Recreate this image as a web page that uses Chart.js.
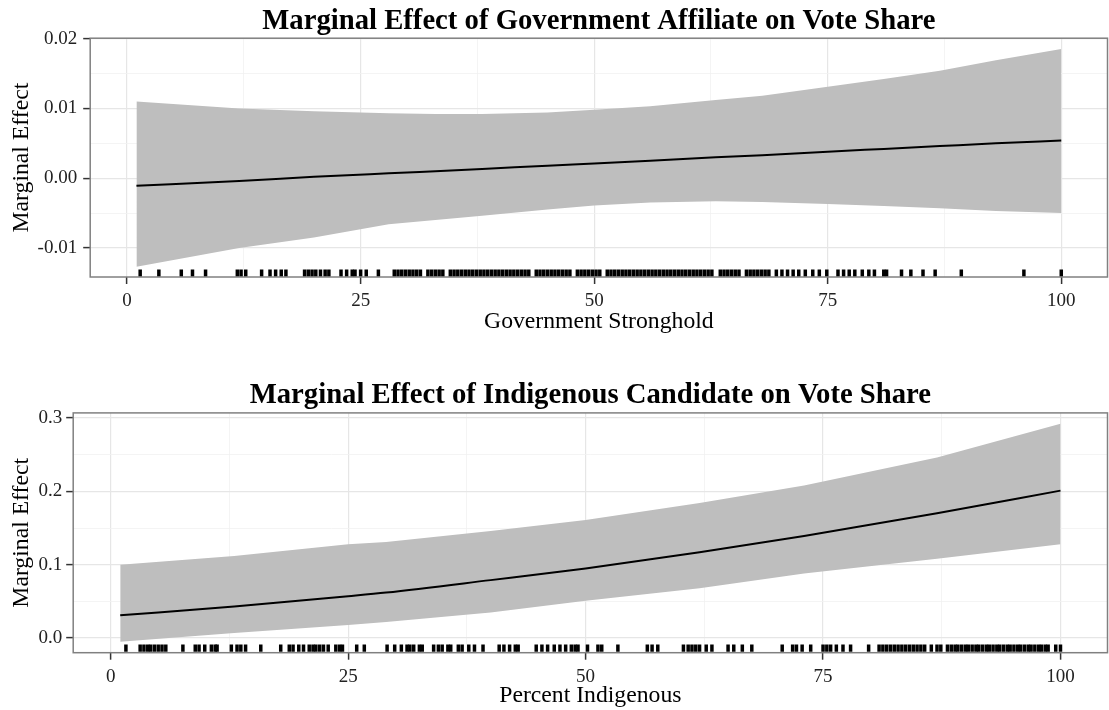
<!DOCTYPE html>
<html>
<head>
<meta charset="utf-8">
<script src="https://cdn.jsdelivr.net/npm/chart.js@4.4.1/dist/chart.umd.min.js"></script>
<style>
body { margin: 0; background: #fff; overflow: hidden; width: 1109px; height: 710px; position: relative; }
canvas { position: absolute; left: 0; }
#govChart { top: 0; }
#indChart { top: 375px; }
</style>
</head>
<body>
<canvas id="govChart" width="1115" height="350"></canvas>
<canvas id="indChart" width="1115" height="335"></canvas>
<script>
// painel 1: government affiliate
const govX = [1, 12, 20, 28, 33, 38, 45, 50, 56, 63, 68, 75, 81, 87, 93, 100];
const govEffect = [-0.0011, -0.0004, 0.0002, 0.0007, 0.0010, 0.0013, 0.0018, 0.0021, 0.0025, 0.0030, 0.0033, 0.0038, 0.0042, 0.0046, 0.0050, 0.0054];
const govUpper = [0.0110, 0.0100, 0.0096, 0.0093, 0.0092, 0.0092, 0.0094, 0.0098, 0.0103, 0.0112, 0.0118, 0.0131, 0.0142, 0.0154, 0.0169, 0.0185];
const govLower = [-0.0127, -0.0100, -0.0085, -0.0066, -0.0060, -0.0054, -0.0045, -0.0039, -0.0035, -0.0033, -0.0034, -0.0037, -0.0040, -0.0043, -0.0047, -0.0050];
const govRug = [1.4, 3.4, 5.8, 7.0, 8.4, 11.8, 12.2, 12.7, 14.4, 15.3, 15.9, 16.5, 17.0,
  19.0, 19.4, 19.8, 20.2, 20.7, 21.2, 21.6, 22.9, 23.5, 24.1, 24.4, 25.0, 25.6, 26.9,
  28.6, 29.0, 29.4, 29.8, 30.2, 30.6, 31.0, 31.4, 32.2, 32.6, 33.0, 33.4, 33.8, 34.6, 35.0, 35.4,
  35.8, 36.2, 36.6, 37.0, 37.4, 37.8, 38.2, 38.6, 39.0, 39.4, 39.8, 40.2, 40.6, 41.0, 41.4, 41.8,
  42.2, 42.6, 43.0, 43.8, 44.2, 44.6, 45.0, 45.4, 45.8, 46.2, 46.6, 47.0, 47.4, 48.2, 48.6, 49.0,
  49.4, 49.8, 50.2, 50.6, 51.4, 51.8, 52.2, 52.6, 53.0, 53.4, 53.8, 54.2, 54.6, 55.0, 55.4, 55.8,
  56.2, 56.6, 57.0, 57.4, 57.8, 58.2, 58.6, 59.0, 59.4, 59.8, 60.2, 60.6, 61.0, 61.4, 61.8, 62.2, 62.6,
  63.5, 63.9, 64.3, 64.7, 65.1, 65.5, 66.3, 66.7, 67.1, 67.5, 67.9, 68.3, 68.7, 69.5, 70.1, 70.7,
  71.3, 71.9, 72.6, 73.4, 74.1, 74.9, 76.1, 76.7, 77.3, 77.9, 78.7, 79.4, 80.0, 81.0, 81.3,
  82.9, 83.9, 85.2, 86.5, 89.3, 96.0, 100];
const govRugY = -0.0136;
const govYMajor = [-0.01, 0, 0.01, 0.02];
const govYMinor = [-0.005, 0.005, 0.015];

// painel 2: indigenous candidate
const indX = [1, 13, 25, 29, 40, 50, 62, 73, 87, 100];
const indEffect = [0.031, 0.043, 0.057, 0.062, 0.079, 0.095, 0.117, 0.139, 0.170, 0.201];
const indUpper = [0.100, 0.112, 0.128, 0.131, 0.146, 0.161, 0.184, 0.208, 0.246, 0.292];
const indLower = [-0.005, 0.007, 0.018, 0.022, 0.035, 0.051, 0.068, 0.088, 0.108, 0.128];
const indRug = [1.6, 3.1, 3.5, 3.9, 4.2, 4.6, 5.0, 5.4, 5.8, 7.6, 8.9, 9.3, 9.9, 10.6, 11.0, 11.2,
  12.7, 13.3, 13.7, 14.2, 15.8, 17.9, 18.8, 19.2, 19.8, 20.3, 20.9, 21.3, 21.6, 22.0, 22.4,
  22.9, 23.7, 24.1, 24.4, 25.9, 26.7, 29.1, 29.9, 30.6, 31.2, 31.5, 31.9, 32.5, 32.8,
  34.0, 34.5, 34.9, 35.5, 35.8, 36.6, 37.0, 37.7, 38.3, 39.2, 40.9, 41.4, 42.0, 42.6, 42.9,
  44.8, 45.4, 46.0, 46.7, 47.3, 47.9, 48.5, 48.9, 49.2, 50.2, 51.3, 51.7, 53.4, 56.5, 57.0, 57.6,
  60.3, 60.8, 61.2, 61.6, 62.0, 62.7, 63.3, 65.0, 65.6, 66.5, 67.5, 70.7,
  71.8, 72.2, 72.8, 73.7, 75.0, 75.4, 75.8, 76.4, 77.1, 77.9, 79.8,
  80.9, 81.3, 81.7, 82.1, 82.5, 82.9, 83.3, 83.7, 84.1, 84.5, 84.9, 85.3, 85.7, 86.4, 87.0, 87.4,
  88.1, 88.5, 88.9, 89.2, 89.6, 90.0, 90.3, 90.7, 91.1, 91.4, 91.8, 92.2, 92.5, 92.9, 93.3, 93.6,
  94.0, 94.4, 94.7, 95.1, 95.5, 95.8, 96.2, 96.6, 96.9, 97.3, 97.7, 98.0, 98.4, 98.7, 99.5, 100];
const indRugY = -0.0138;
const indYMajor = [0, 0.1, 0.2, 0.3];
const indYMinor = [0.05, 0.15, 0.25];

const xMajor = [0, 25, 50, 75, 100];
const xMinor = [12.5, 37.5, 62.5, 87.5];

const serif = "'Liberation Serif', 'Times New Roman', Times, serif";

function toPoints(xs, ys) {
    return xs.map((x, i) => ({ x: x, y: ys[i] }));
}

function isMajor(list, v) {
    return list.some(t => Math.abs(t - v) < 1e-9);
}

// borda cinza em volta da area do grafico
const panelBorder = {
    id: 'panelBorder',
    afterDatasetsDraw(chart) {
        const a = chart.chartArea;
        const ctx = chart.ctx;
        ctx.save();
        ctx.strokeStyle = '#808080';
        ctx.lineWidth = 1.5;
        ctx.strokeRect(a.left, a.top, a.right - a.left, a.bottom - a.top);
        ctx.restore();
    }
};

function eixo(major, minor, opts) {
    return {
        type: 'linear',
        min: opts.min,
        max: opts.max,
        afterBuildTicks: scale => {
            scale.ticks = major.concat(minor).sort((a, b) => a - b).map(v => ({ value: v }));
        },
        afterFit: opts.afterFit,
        border: { display: false },
        grid: {
            color: c => isMajor(major, c.tick.value) ? '#e6e6e6' : '#f1f1f1',
            lineWidth: c => isMajor(major, c.tick.value) ? 1.2 : 0.8,
            tickColor: c => isMajor(major, c.tick.value) ? '#333333' : 'rgba(0,0,0,0)',
            tickLength: 7,
            tickWidth: 1.5
        },
        ticks: {
            autoSkip: false,
            maxRotation: 0,
            padding: opts.padding,
            color: '#222222',
            font: { family: serif, size: 19 },
            callback: v => isMajor(major, v) ? opts.format(v) : ''
        },
        title: {
            display: true,
            text: opts.title,
            color: '#000',
            padding: opts.titlePadding,
            font: { family: serif, size: 23.7 }
        }
    };
}

function criarPainel(id, p) {
    const ctx = document.getElementById(id).getContext('2d');
    return new Chart(ctx, {
        type: 'line',
        data: {
            datasets: [
                {
                    data: p.rug.map(x => ({ x: x, y: p.rugY })),
                    showLine: false,
                    pointStyle: 'line',
                    pointRotation: 90,
                    pointRadius: 3.6,
                    pointBorderWidth: 3.5,
                    pointBorderColor: '#000'
                },
                {
                    data: toPoints(p.x, p.effect),
                    borderColor: '#000',
                    borderWidth: 2,
                    pointRadius: 0,
                    cubicInterpolationMode: 'monotone'
                },
                {
                    data: toPoints(p.x, p.upper),
                    borderWidth: 0,
                    pointRadius: 0,
                    backgroundColor: '#bebebe',
                    fill: '+1'
                },
                {
                    data: toPoints(p.x, p.lower),
                    borderWidth: 0,
                    pointRadius: 0
                }
            ]
        },
        options: {
            responsive: false,
            animation: false,
            layout: { padding: { right: 1 } },
            plugins: {
                legend: { display: false },
                tooltip: { enabled: false },
                title: {
                    display: true,
                    text: p.title,
                    fullSize: false,
                    color: '#000',
                    padding: p.titlePadding,
                    font: { family: serif, size: 28.7, weight: 'bold', lineHeight: 1.15 }
                }
            },
            scales: {
                x: eixo(xMajor, xMinor, {
                    min: -3.95, max: 104.95,
                    padding: 6,
                    format: v => String(v),
                    title: p.xTitle,
                    titlePadding: { top: 0, bottom: p.xTitleBottom },
                    afterFit: s => { s.height = p.xHeight; }
                }),
                y: eixo(p.yMajor, p.yMinor, {
                    min: p.yMin, max: p.yMax,
                    padding: p.yPad,
                    format: v => v.toFixed(p.digits),
                    title: 'Marginal Effect',
                    titlePadding: { top: 8, bottom: 0 },
                    afterFit: s => { s.width = p.yWidth; }
                })
            }
        },
        plugins: [panelBorder]
    });
}

criarPainel('govChart', {
    title: 'Marginal Effect of Government Affiliate on Vote Share',
    titlePadding: { top: 5, bottom: 0.2 },
    xTitle: 'Government Stronghold',
    xTitleBottom: 14,
    xHeight: 73,
    x: govX, effect: govEffect, upper: govUpper, lower: govLower,
    rug: govRug, rugY: govRugY,
    yMajor: govYMajor, yMinor: govYMinor,
    yMin: -0.01416, yMax: 0.02006, digits: 2,
    yWidth: 90.2, yPad: 6
});

criarPainel('indChart', {
    title: 'Marginal Effect of Indigenous Candidate on Vote Share',
    titlePadding: { top: 3.6, bottom: 1.3 },
    xTitle: 'Percent Indigenous',
    xTitleBottom: 0,
    xHeight: 57.3,
    x: indX, effect: indEffect, upper: indUpper, lower: indLower,
    rug: indRug, rugY: indRugY,
    yMajor: indYMajor, yMinor: indYMinor,
    yMin: -0.0199, yMax: 0.3069, digits: 1,
    yWidth: 73.2, yPad: 4
});
</script>
</body>
</html>
